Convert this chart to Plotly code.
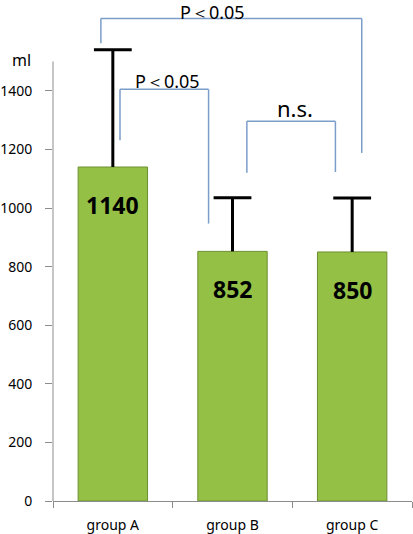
import plotly.graph_objects as go

# bar data
groups = ["group A", "group B", "group C"]
means = [1140, 852, 850]
sd_upper = [400, 183, 184]
y_ticks = [0, 200, 400, 600, 800, 1000, 1200, 1400]

# significance brackets (x in category units, y in ml)
br_left = [-0.10, 0.06, 1.12]
br_right = [2.08, 0.80, 1.86]
br_top = [1647, 1405, 1296]
br_left_end = [1562, 1231, 1120]
br_right_end = [1188, 947, 1123]
br_label = ["P＜0.05", "P＜0.05", "n.s."]
br_label_x = [0.83, 0.46, 1.52]
br_label_y = [1668, 1434, 1343]

FONT = "Noto Sans"
BRACKET_COLOR = "#7b9dca"

fig = go.Figure()

fig.add_trace(
    go.Bar(
        x=groups,
        y=means,
        marker=dict(color="#94c046", line=dict(color="#6d8f30", width=1)),
        error_y=dict(
            type="data",
            symmetric=False,
            array=sd_upper,
            arrayminus=[0] * len(sd_upper),
            color="black",
            thickness=3,
            width=0,
        ),
        width=0.58,
        showlegend=False,
    )
)

# caps only on the upper end of the error bars
fig.add_trace(
    go.Scatter(
        x=groups,
        y=[m + s for m, s in zip(means, sd_upper)],
        mode="markers",
        marker=dict(symbol="line-ew-open", size=27, color="black",
                    line=dict(color="black", width=3)),
        showlegend=False,
        hoverinfo="skip",
    )
)

# value labels inside bars
for g, v in zip(groups, means):
    fig.add_annotation(
        x=g, y=v, yshift=-38, text=str(v), showarrow=False,
        font=dict(family=FONT, size=23, color="black", weight="bold"),
    )

# brackets
for i in range(len(br_label)):
    l, r, t = br_left[i], br_right[i], br_top[i]
    for x0, y0, x1, y1 in [
        (l, br_left_end[i], l, t),
        (l, t, r, t),
        (r, t, r, br_right_end[i]),
    ]:
        fig.add_shape(
            type="line", xref="x", yref="y", x0=x0, y0=y0, x1=x1, y1=y1,
            line=dict(color=BRACKET_COLOR, width=1.5),
        )
    size = 22 if br_label[i] == "n.s." else 18
    fig.add_annotation(
        x=br_label_x[i], y=br_label_y[i], yanchor="middle", text=br_label[i],
        showarrow=False, font=dict(family=FONT, size=size, color="black"),
    )

# y axis line stops at 1500
fig.add_shape(
    type="line", xref="paper", yref="y", x0=0, x1=0, y0=0, y1=1500,
    line=dict(color="#8c8c8c", width=1),
)

fig.add_annotation(
    x=-0.088, xref="paper", xanchor="center", y=1505, text="ml", showarrow=False,
    font=dict(family=FONT, size=16, color="black"),
)

fig.update_layout(
    width=413,
    height=534,
    margin=dict(l=49, r=1, t=0, b=33),
    plot_bgcolor="white",
    paper_bgcolor="white",
    font=dict(family=FONT, size=13, color="black"),
    xaxis=dict(
        type="category",
        range=[-0.5, 2.5],
        showline=True,
        linecolor="#8c8c8c",
        ticks="outside",
        tickson="boundaries",
        ticklen=6,
        tickcolor="#8c8c8c",
        tickfont=dict(size=14),
        ticklabelstandoff=11,
        showgrid=False,
    ),
    yaxis=dict(
        range=[0, 1710],
        tickvals=y_ticks,
        showline=False,
        ticks="outside",
        ticklen=7,
        tickcolor="#8c8c8c",
        showgrid=False,
        zeroline=False,
        tickfont=dict(size=14),
        ticklabelstandoff=10,
    ),
)

fig.write_html(
    "out.html",
    config={"displayModeBar": False},
    post_script="document.body.style.margin = '0';",
)
